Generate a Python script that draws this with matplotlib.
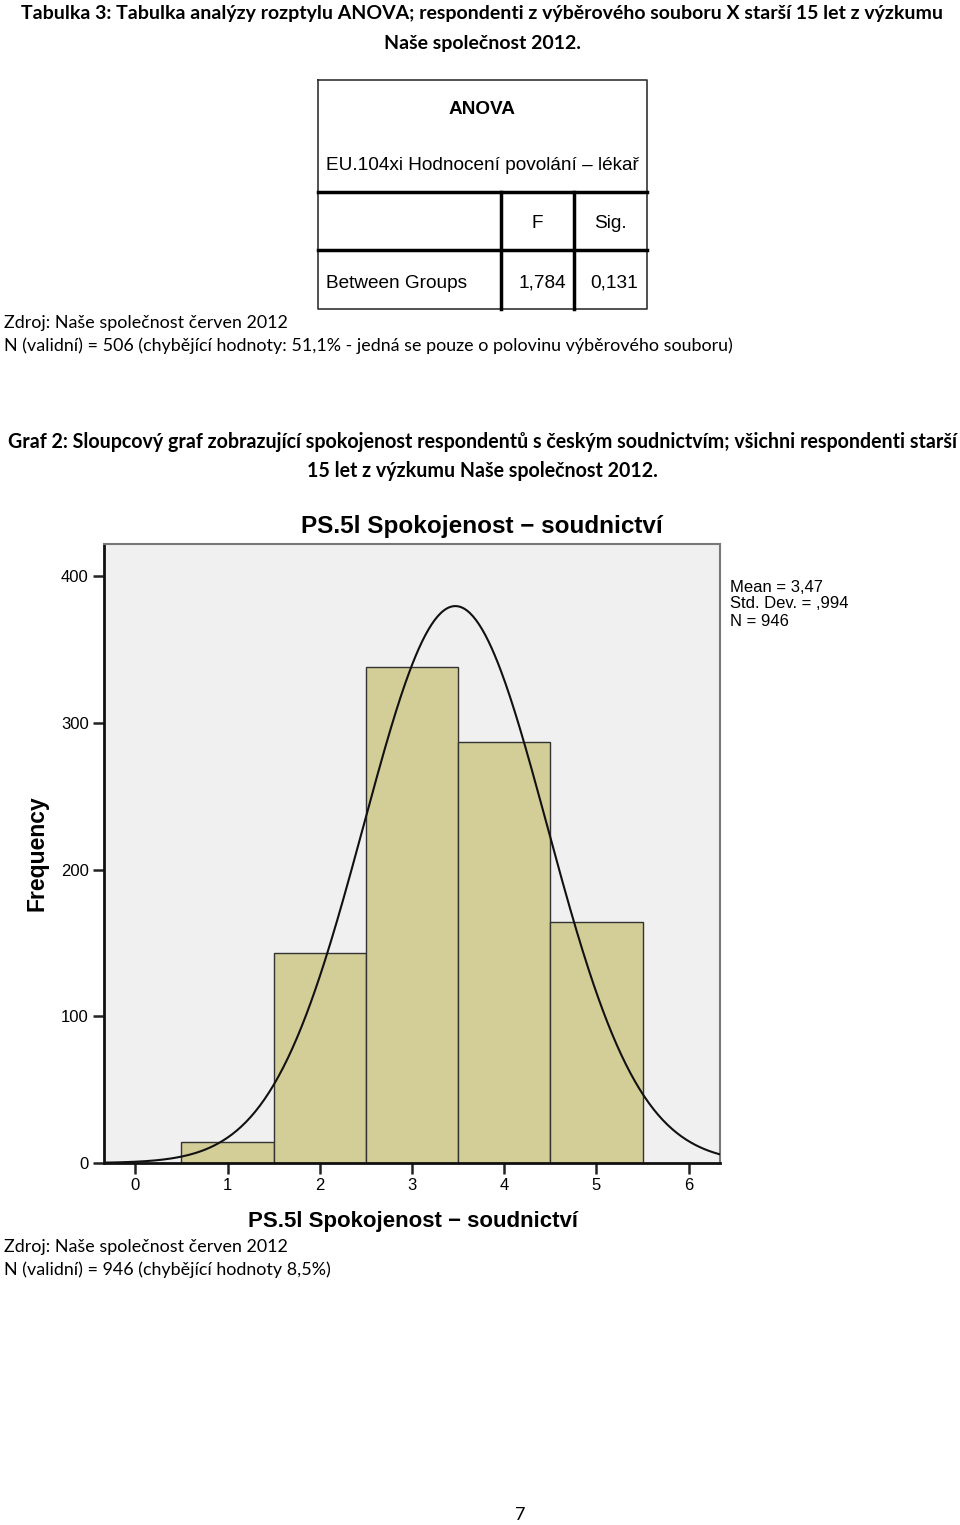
import numpy as np
import matplotlib
matplotlib.use("Agg")
import matplotlib.pyplot as plt

# data
ratings = [1, 2, 3, 4, 5]
counts = [14, 143, 338, 287, 164]
mean_val = 3.47
std_val = 0.994
n_total = 946
y_ticks = [0, 100, 200, 300, 400]
x_ticks = [0, 1, 2, 3, 4, 5, 6]

anova_f = "1,784"
anova_sig = "0,131"

W, H = 960, 1525
doc_font = ["Lato", "DejaVu Sans"]
spss_font = ["Liberation Sans", "DejaVu Sans"]


def fx(x):
    return x / W


def fy(y):
    # +2 px: va="center" sits a bit high against the reference
    return 1 - (y + 2) / H


fig = plt.figure(figsize=(W / 100, H / 100), dpi=100)

# nadpis tabulky
fig.text(fx(482), fy(12), "Tabulka 3: Tabulka analýzy rozptylu ANOVA; respondenti z výběrového souboru X starší 15 let z výzkumu",
         ha="center", va="center", fontsize=14, fontweight="bold", family=doc_font)
fig.text(fx(482), fy(41), "Naše společnost 2012.",
         ha="center", va="center", fontsize=14, fontweight="bold", family=doc_font)

# tabulka ANOVA
tax = fig.add_axes([0, 0, 1, 1])
tax.set_xlim(0, W)
tax.set_ylim(H, 0)
tax.axis("off")
tl, tr, tt, tb = 318, 647, 80, 309
tax.plot([tl, tr, tr, tl, tl], [tt, tt, tb, tb, tt], color="#333333", lw=1.2)
tax.plot([tl, tr], [192, 192], color="black", lw=2.5)
tax.plot([tl, tr], [250, 250], color="black", lw=2.5)
tax.plot([501, 501], [192, tb], color="black", lw=2.5)
tax.plot([574, 574], [192, tb], color="black", lw=2.5)
tfs = 13.7
tax.text(482, 109, "ANOVA", ha="center", va="center", fontsize=tfs, fontweight="bold", family=spss_font)
tax.text(326, 165, "EU.104xi Hodnocení povolání – lékař", ha="left", va="center", fontsize=tfs, family=spss_font)
tax.text(537, 224, "F", ha="center", va="center", fontsize=tfs, family=spss_font)
tax.text(610, 224, "Sig.", ha="center", va="center", fontsize=tfs, family=spss_font)
tax.text(326, 283, "Between Groups", ha="left", va="center", fontsize=tfs, family=spss_font)
tax.text(566, 283, anova_f, ha="right", va="center", fontsize=tfs, family=spss_font)
tax.text(638, 283, anova_sig, ha="right", va="center", fontsize=tfs, family=spss_font)

fig.text(fx(4), fy(321), "Zdroj: Naše společnost červen 2012", ha="left", va="center", fontsize=12.9, family=doc_font)
fig.text(fx(4), fy(344), "N (validní) = 506 (chybějící hodnoty: 51,1% - jedná se pouze o polovinu výběrového souboru)",
         ha="left", va="center", fontsize=12.9, family=doc_font)

fig.text(fx(482), fy(440), "Graf 2: Sloupcový graf zobrazující spokojenost respondentů s českým soudnictvím; všichni respondenti starší",
         ha="center", va="center", fontsize=14.1, fontweight="bold", family=doc_font)
fig.text(fx(482), fy(469), "15 let z výzkumu Naše společnost 2012.",
         ha="center", va="center", fontsize=14.1, fontweight="bold", family=doc_font)

# histogram
ax = fig.add_axes([104 / W, 1 - 1163 / H, (720 - 104) / W, (1163 - 544) / H])
ax.set_facecolor("#F0F0F0")
ax.bar(ratings, counts, width=1.0, color="#D3CE98", edgecolor="#333333", linewidth=1.0, zorder=2)

xs = np.linspace(-0.34, 6.34, 400)
curve = n_total / (std_val * np.sqrt(2 * np.pi)) * np.exp(-0.5 * ((xs - mean_val) / std_val) ** 2)
ax.plot(xs, curve, color="#111111", lw=1.5, zorder=3)

ax.set_xlim(-0.34, 6.34)
ax.set_ylim(0, 422)
ax.set_xticks(x_ticks)
ax.set_yticks(y_ticks)
ax.set_xticklabels([str(v) for v in x_ticks], family=spss_font, fontsize=12)
ax.set_yticklabels([str(v) for v in y_ticks], family=spss_font, fontsize=12)
ax.tick_params(axis="both", direction="out", length=8, width=1.8, color="#222222", pad=3)
for s in ["left", "bottom"]:
    ax.spines[s].set_color("#111111")
    ax.spines[s].set_linewidth(2)
for s in ["top", "right"]:
    ax.spines[s].set_color("#777777")
    ax.spines[s].set_linewidth(1.5)

ax.set_ylabel("Frequency", family=spss_font, fontsize=16.5, fontweight="bold")
ax.yaxis.set_label_coords((49 - 104) / 616, 0.5)
fig.text(fx(482), fy(524), "PS.5l Spokojenost − soudnictví", ha="center", va="center",
         fontsize=17.5, fontweight="bold", family=spss_font)
fig.text(fx(413), fy(1220), "PS.5l Spokojenost − soudnictví", ha="center", va="center",
         fontsize=16, fontweight="bold", family=spss_font)

fig.text(fx(730), fy(585), "Mean = 3,47", ha="left", va="center", fontsize=12, family=spss_font)
fig.text(fx(730), fy(602), "Std. Dev. = ,994", ha="left", va="center", fontsize=12, family=spss_font)
fig.text(fx(730), fy(619), "N = 946", ha="left", va="center", fontsize=12, family=spss_font)

fig.text(fx(4), fy(1245), "Zdroj: Naše společnost červen 2012", ha="left", va="center", fontsize=12.9, family=doc_font)
fig.text(fx(4), fy(1268), "N (validní) = 946 (chybějící hodnoty 8,5%)", ha="left", va="center", fontsize=12.9, family=doc_font)

fig.text(fx(520), fy(1513), "7", ha="center", va="center", fontsize=13, family=doc_font)

fig.savefig("out.png", dpi=100)
